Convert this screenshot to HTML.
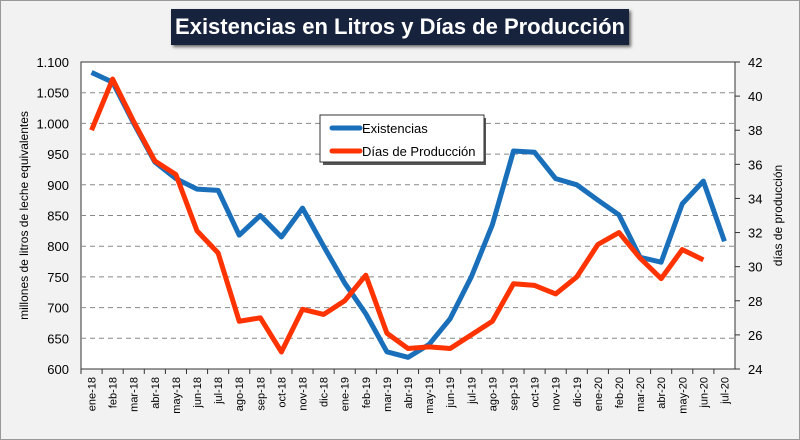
<!DOCTYPE html>
<html><head><meta charset="utf-8"><style>
body{margin:0;background:#fff;font-family:"Liberation Sans",sans-serif}
#wrap{position:relative;width:798px;height:438px;border:1px solid #999;background:#f2f2f2}
#title{position:absolute;left:170px;top:8px;width:458px;height:36px;background:#17233d;color:#fff;font-weight:bold;font-size:22px;line-height:36px;text-align:center;box-shadow:2px 2px 3px #666}
</style></head><body>
<div id="wrap">
<div id="title">Existencias en Litros y Días de Producción</div>
<svg id="chart" width="800" height="440" style="position:absolute;left:-1px;top:-1px"></svg>
</div>
<script>
const categories=["ene-18","feb-18","mar-18","abr-18","may-18","jun-18","jul-18","ago-18","sep-18","oct-18","nov-18","dic-18","ene-19","feb-19","mar-19","abr-19","may-19","jun-19","jul-19","ago-19","sep-19","oct-19","nov-19","dic-19","ene-20","feb-20","mar-20","abr-20","may-20","jun-20","jul-20"];
const existencias=[1083,1067,1000,937,910,893,891,818,850,815,862,800,740,690,628,619,640,682,750,835,955,953,910,900,875,851,782,774,869,906,808];
const dias=[38,41,38.5,36.2,35.4,32.1,30.8,26.8,27,25,27.5,27.2,28,29.5,26.1,25.2,25.3,25.2,26,26.8,29,28.9,28.4,29.4,31.3,32,30.5,29.3,31,30.4];
const leftTicks=[600,650,700,750,800,850,900,950,1000,1050,1100];
const rightTicks=[24,26,28,30,32,34,36,38,40,42];
const NS="http://www.w3.org/2000/svg";
const svg=document.getElementById('chart');
const X0=81,X1=735,Y0=62,Y1=369;
const bw=(X1-X0)/categories.length;
const xs=i=>X0+bw*(i+0.5);
const yl=v=>Y1-(v-600)/500*(Y1-Y0);
const yr=v=>Y1-(v-24)/18*(Y1-Y0);
function mk(t,a,txt){const e=document.createElementNS(NS,t);for(const k in a)e.setAttribute(k,a[k]);if(txt!=null)e.textContent=txt;svg.appendChild(e);return e;}
let bg=mk('rect',{x:X0,y:Y0,width:X1-X0,height:Y1-Y0,fill:'#fff',stroke:'#333','stroke-width':1});


leftTicks.forEach(v=>{
 if(v>600&&v<1100){let g=mk('line',{x1:X0,x2:X1,y1:yl(v),y2:yl(v),stroke:'#888','stroke-dasharray':'5,4'});
 
 }
 let t=mk('text',{x:X0-12,y:yl(v)+5,'text-anchor':'end','font-size':13,fill:'#000'},v.toLocaleString('de-DE'));
 
 
});
rightTicks.forEach(v=>{
 mk('line',{x1:X1,x2:X1+5,y1:yr(v),y2:yr(v),stroke:'#333'});
 let t=mk('text',{x:X1+13,y:yr(v)+5,'font-size':13,fill:'#000'},v);
 
 
});
categories.forEach((c,i)=>{
 mk('line',{x1:X0+bw*i,x2:X0+bw*i,y1:Y1,y2:Y1+5,stroke:'#333'});
 let t=mk('text',{transform:`translate(${xs(i)+4},${Y1+8}) rotate(-90)`,'text-anchor':'end','font-size':11,fill:'#000'},c);
 
 
});
let yt=mk('text',{transform:`translate(28,${(Y0+Y1)/2}) rotate(-90)`,'text-anchor':'middle','font-size':12},'millones de litros de leche equivalentes');


let yt2=mk('text',{transform:`translate(782,${(Y0+Y1)/2}) rotate(-90)`,'text-anchor':'middle','font-size':12},'días de producción');


let p1=mk('polyline',{points:existencias.map((v,i)=>xs(i)+','+yl(v)).join(' '),fill:'none',stroke:'#1a6fba','stroke-width':5,'stroke-linejoin':'round'});


let p2=mk('polyline',{points:dias.map((v,i)=>xs(i)+','+yr(v)).join(' '),fill:'none',stroke:'#ff3300','stroke-width':5,'stroke-linejoin':'round'});


mk('rect',{x:323,y:118,width:163,height:47,fill:'#555'});
let lg=mk('rect',{x:320,y:115,width:164,height:47,fill:'#fff',stroke:'#333'});


mk('line',{x1:332,x2:360,y1:128,y2:128,stroke:'#1a6fba','stroke-width':5,'stroke-linecap':'round'});
let l1=mk('text',{x:362,y:133,'font-size':13},'Existencias');


mk('line',{x1:332,x2:360,y1:151,y2:151,stroke:'#ff3300','stroke-width':5,'stroke-linecap':'round'});
let l2=mk('text',{x:362,y:156,'font-size':13},'Días de Producción');


</script>
</body></html>
